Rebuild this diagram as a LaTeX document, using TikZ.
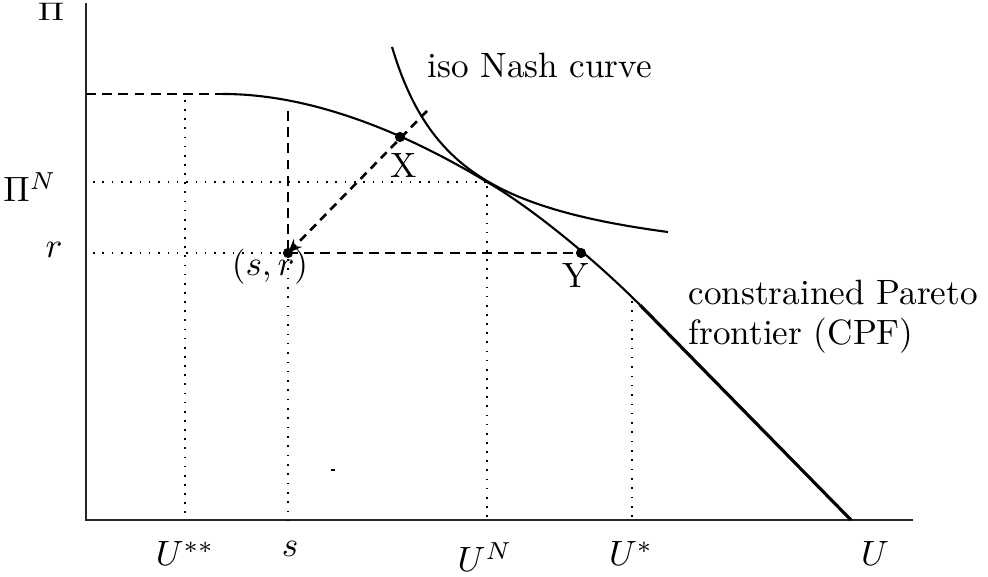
\documentclass[tikz,border=0pt]{standalone}
\usetikzlibrary{arrows.meta}
\begin{document}
\begin{tikzpicture}[x=0.01cm,y=-0.01cm,
  axis/.style={line width=0.55pt, black!85},
  curve/.style={line width=0.6pt},
  thickcurve/.style={line width=0.9pt},
  dashline/.style={line width=0.5pt, dash pattern=on 2.8pt off 1.8pt},
  diagline/.style={line width=0.75pt, dash pattern=on 2.4pt off 1.7pt},
  dotline/.style={line width=0.75pt, dash pattern=on 0.5pt off 2.1pt},
  finedot/.style={line width=0.5pt, dash pattern=on 0.45pt off 2.2pt},
  pt/.style={circle, fill, inner sep=0pt, minimum size=2.9pt},
  lbl/.style={inner sep=0pt}]
\useasboundingbox (0,0) rectangle (988,577);

% key coordinates
\coordinate (O) at (86,520);
\coordinate (ytop) at (86,3);
\coordinate (xend) at (913,520);
\coordinate (top) at (223,94);
\coordinate (topaxis) at (86,94);
\coordinate (tan) at (487,182);
\coordinate (kink) at (640,305);
\coordinate (cpfend) at (851,520);
\coordinate (diagend) at (427,111);

% axes
\draw[axis] (ytop) -- (O) -- (xend);

% guide lines
\draw[dashline] (topaxis) -- (top);
\draw[dotline] (185,100) -- (185,520);
\draw[dashline] (288,111) -- (288,253);
\draw[finedot] (288,259) -- (288,520);
\draw[finedot] (93,182) -- (tan);
\draw[finedot] (93,253) -- (288,253);
\draw[dashline] (288,253) -- (581,253);
\draw[dotline] (487,186) -- (487,520);
\draw[finedot] (632,301) -- (632,520);

% constrained Pareto frontier
\draw[curve] (top) .. controls (313,94) and (407,133.6) .. (tan)
  .. controls (527,204.7) and (590,255) .. (kink);
\draw[thickcurve] (kink) -- (cpfend);

% iso Nash curve
\draw[curve] plot[domain=392:668, samples=90] (\x, {278.3-15962/(\x-323)});

% diagonal from (s,r) through X
\node[pt] (X) at (400,137) {};
\node[pt] (Y) at (581,253) {};
\node[pt] (sr) at (288,253) {};
\draw[diagline, -{Stealth[length=4pt,width=3.2pt]}] (diagend) -- (sr.center);

% stray mark
\fill (331,469) rectangle (335,471);

% labels
\node[lbl, anchor=base] (Pi) at (51,21) {\scalebox{1}[0.72]{$\Pi$}};
\node[lbl, anchor=base] (PiN) at (30,202) {$\Pi^N$};
\node[lbl, anchor=base] (rl) at (54,258) {$r$};
\node[lbl, anchor=base] (Xl) at (404,178) {X};
\node[lbl, anchor=base] (Yl) at (576,288) {Y};
\node[lbl, anchor=base] (srl) at (270,276) {$(s,r)$};
\node[lbl, anchor=base west] (nash) at (427,78) {iso Nash curve};
\node[lbl, anchor=base west] (cpf1) at (688,305) {constrained Pareto};
\node[lbl, anchor=base west] (cpf2) at (688,345) {frontier (CPF)};
\node[lbl, anchor=base] (Ustst) at (185,566) {$U^{**}$};
\node[lbl, anchor=base] (sl) at (290,557) {$s$};
\node[lbl, anchor=base] (UN) at (485,572) {$U^N$};
\node[lbl, anchor=base] (Ust) at (631,566) {$U^*$};
\node[lbl, anchor=base] (Ul) at (875,566) {$U$};
\end{tikzpicture}
\end{document}
